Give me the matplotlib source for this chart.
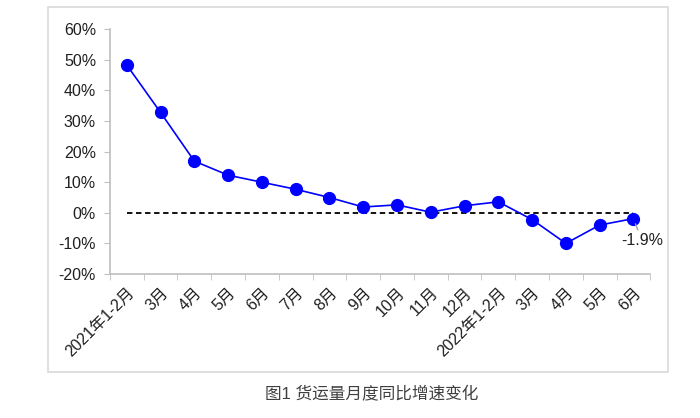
import numpy as np
import matplotlib.pyplot as plt
from matplotlib.patches import Rectangle

plt.rcParams['font.family'] = ['Liberation Sans', 'Noto Sans CJK SC', 'DejaVu Sans']

# 数据
months = ['2021年1-2月', '3月', '4月', '5月', '6月', '7月', '8月', '9月', '10月',
          '11月', '12月', '2022年1-2月', '3月', '4月', '5月', '6月']
growth = [48.3, 32.8, 16.9, 12.3, 10.0, 7.7, 5.0, 1.9, 2.6,
          0.2, 2.3, 3.6, -2.2, -10.0, -4.0, -1.9]
y_ticks = [-20, -10, 0, 10, 20, 30, 40, 50, 60]
caption = '图1 货运量月度同比增速变化'

fig = plt.figure(figsize=(7, 4.18), dpi=100)
ax = fig.add_axes([0.157, 0.3445, 0.772, 0.5855])

# 外框
fig.patches.append(Rectangle((0.0686, 0.110), 0.8854, 0.873, transform=fig.transFigure,
                             fill=False, edgecolor='#d9d9d9', lw=1.2))

x = np.arange(len(months))
ax.plot([x[0], x[-1]], [0, 0], color='black', ls=(0, (3, 2)), lw=1.3, zorder=2)
ax.plot(x, growth, color='#0000ff', lw=1.2, marker='o', markersize=8.5, zorder=3)

ax.annotate(f'{growth[-1]}%', xy=(x[-1], growth[-1]), xytext=(x[-1] + 0.25, growth[-1] - 9.5),
            fontsize=11.5, color='#202020', ha='center', va='bottom',
            arrowprops=dict(arrowstyle='-', color='#a0a0a0', lw=1, shrinkA=0, shrinkB=4))

ax.set_xlim(-0.5, len(months) - 0.5)
ax.set_ylim(-20, 60)
ax.set_yticks(y_ticks)
ax.set_yticklabels([f'{v}%' for v in y_ticks], fontsize=11.5, color='#202020')

ax.set_xticks(x)
ax.set_xticklabels(months, rotation=45, ha='right', va='top', rotation_mode='anchor',
                   fontsize=11.5, color='#202020')
ax.set_xticks(np.arange(-0.5, len(months)), minor=True)
ax.tick_params(axis='x', which='major', length=0, pad=8)
ax.tick_params(axis='x', which='minor', length=4, color='#bfbfbf', direction='out')
ax.tick_params(axis='y', length=4, color='#bfbfbf', direction='out', pad=6)

for s in ['top', 'right']:
    ax.spines[s].set_visible(False)
for s in ['left', 'bottom']:
    ax.spines[s].set_color('#bfbfbf')
    ax.spines[s].set_linewidth(1.2)

fig.text(0.531, 0.057, caption, ha='center', va='center', fontsize=12, color='#404040')

fig.savefig('out.png', dpi=100)
